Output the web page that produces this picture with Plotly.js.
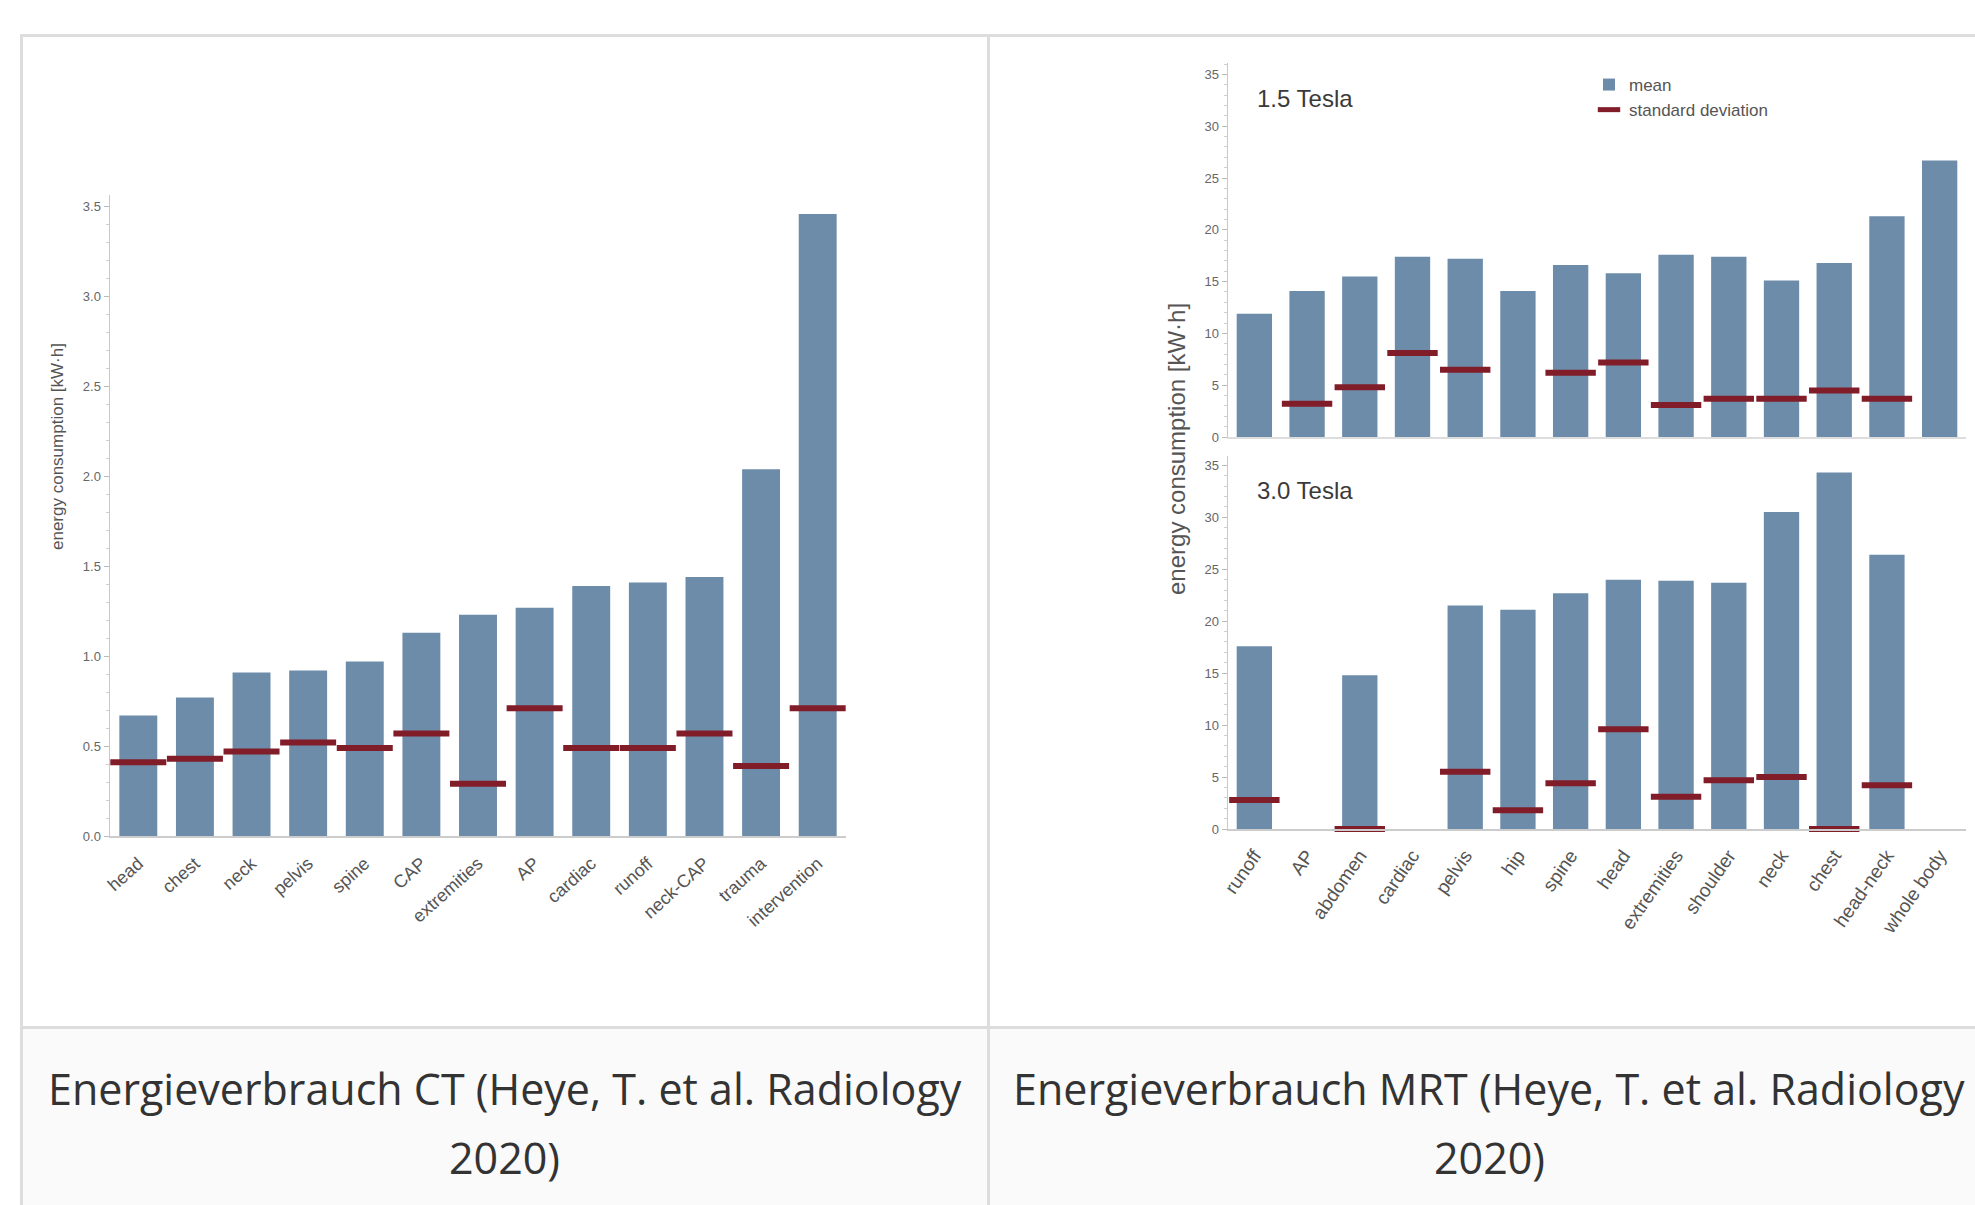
<!DOCTYPE html>
<html>
<head>
<meta charset="utf-8">
<script src="https://cdn.plot.ly/plotly-3.0.1.min.js"></script>
<style>
  html, body { margin: 0; padding: 0; background: #ffffff; }
  #chart { width: 1975px; height: 1205px; }
</style>
</head>
<body>
<div id="chart"></div>
<script>
// ---- Data ----
var ctCategories = ['head','chest','neck','pelvis','spine','CAP','extremities','AP','cardiac','runoff','neck-CAP','trauma','intervention'];
var ctMean = [0.67, 0.77, 0.91, 0.92, 0.97, 1.13, 1.23, 1.27, 1.39, 1.41, 1.44, 2.04, 3.46];
var ctSD   = [0.41, 0.43, 0.47, 0.52, 0.49, 0.57, 0.29, 0.71, 0.49, 0.49, 0.57, 0.39, 0.71];

var mrCategories = ['runoff','AP','abdomen','cardiac','pelvis','hip','spine','head','extremities','shoulder','neck','chest','head-neck','whole body'];
var mr15Mean = [11.9, 14.1, 15.5, 17.4, 17.2, 14.1, 16.6, 15.8, 17.6, 17.4, 15.1, 16.8, 21.3, 26.7];
var mr15SD   = [null, 3.2, 4.8, 8.1, 6.5, null, 6.2, 7.2, 3.1, 3.7, 3.7, 4.5, 3.7, null];
var mr30Mean = [17.6, null, 14.8, null, 21.5, 21.1, 22.7, 24.0, 23.9, 23.7, 30.5, 34.3, 26.4, null];
var mr30SD   = [2.8, null, 0.0, null, 5.5, 1.8, 4.4, 9.6, 3.1, 4.7, 5.0, 0.0, 4.2, null];

var ctCaption1 = 'Energieverbrauch CT (Heye, T. et al. Radiology';
var mrCaption1 = 'Energieverbrauch MRT (Heye, T. et al. Radiology';
var captionLine2 = '2020)';
var yTitle = 'energy consumption [kW·h]';

// ---- Helpers: pixel -> paper fraction ----
var W = 1975, H = 1205;
function fx(p) { return p / W; }
function fy(p) { return 1 - p / H; }

var barColor = '#6d8ca9';
var sdColor = '#801d29';
var chartFont = 'Liberation Sans, Arial, sans-serif';

function barTrace(x, y, xa, ya, name, show) {
  return { type: 'bar', x: x, y: y, xaxis: xa, yaxis: ya, name: name, showlegend: show,
           marker: { color: barColor }, hoverinfo: 'x+y' };
}
function sdTrace(x, y, xa, ya, size, name, show) {
  return { type: 'scatter', mode: 'markers', x: x, y: y, xaxis: xa, yaxis: ya, name: name, showlegend: show,
           cliponaxis: false,
           marker: { symbol: 'line-ew', size: size, color: sdColor, line: { color: sdColor, width: 6 } } };
}

var data = [
  barTrace(ctCategories, ctMean, 'x', 'y', 'mean', false),
  sdTrace(ctCategories, ctSD, 'x', 'y', 40, 'standard deviation', false),
  barTrace(mrCategories, mr15Mean, 'x2', 'y2', 'mean', true),
  sdTrace(mrCategories, mr15SD, 'x2', 'y2', 36, 'standard deviation', true),
  barTrace(mrCategories, mr30Mean, 'x3', 'y3', 'mean', false),
  sdTrace(mrCategories, mr30SD, 'x3', 'y3', 36, 'standard deviation', false)
];

var tickFontY = { family: chartFont, size: 13, color: '#666' };

function yAxisBase(dom, rng, dtick, minorDtick, fmt) {
  return {
    domain: dom, range: rng, dtick: dtick, tick0: 0, tickformat: fmt,
    showgrid: false, zeroline: false, showline: true, linecolor: '#c8c8c8', linewidth: 1.5,
    ticks: 'outside', ticklen: 5, tickcolor: '#bbbbbb', tickwidth: 1,
    tickfont: tickFontY,
    minor: { dtick: minorDtick, ticks: 'outside', ticklen: 3, tickcolor: '#d0d0d0', showgrid: false },
    fixedrange: true
  };
}

var layout = {
  width: W, height: H,
  margin: { l: 0, r: 0, t: 0, b: 0 },
  paper_bgcolor: '#ffffff',
  plot_bgcolor: 'rgba(0,0,0,0)',
  bargap: 0.33,
  font: { family: chartFont, color: '#555' },
  showlegend: true,
  legend: {
    x: fx(1589), y: fy(67), xanchor: 'left', yanchor: 'top',
    bgcolor: 'rgba(0,0,0,0)', font: { family: chartFont, size: 17, color: '#555' },
    tracegroupgap: 0
  },
  xaxis: {
    domain: [fx(110), fx(846)], anchor: 'y', type: 'category', range: [-0.5, 12.5],
    showgrid: false, zeroline: false, showline: true, linecolor: '#cccccc', linewidth: 2,
    ticks: '', tickangle: -42, ticklabelstandoff: 8,
    tickfont: { family: chartFont, size: 18, color: '#555' }, fixedrange: true
  },
  yaxis: Object.assign(yAxisBase([fy(836), fy(195)], [0, 3.565], 0.5, 0.1, '.1f'), { anchor: 'x' }),
  xaxis2: {
    domain: [fx(1228), fx(1966)], anchor: 'y2', type: 'category', range: [-0.5, 13.5],
    showgrid: false, zeroline: false, showline: true, linecolor: '#dddddd', linewidth: 1.5,
    showticklabels: false, ticks: '', fixedrange: true
  },
  yaxis2: Object.assign(yAxisBase([fy(437), fy(63)], [0, 36.1], 5, 1, 'd'), { anchor: 'x2' }),
  xaxis3: {
    domain: [fx(1228), fx(1966)], anchor: 'y3', type: 'category', range: [-0.5, 13.5],
    showgrid: false, zeroline: false, showline: true, linecolor: '#cccccc', linewidth: 2,
    ticks: '', tickangle: -55, ticklabelstandoff: 6,
    tickfont: { family: chartFont, size: 19, color: '#555' }, fixedrange: true
  },
  yaxis3: Object.assign(yAxisBase([fy(829), fy(456)], [0, 35.9], 5, 1, 'd'), { anchor: 'x3' }),
  shapes: [
    // caption row background
    { type: 'rect', xref: 'paper', yref: 'paper', x0: fx(23), x1: fx(1975), y0: fy(1205), y1: fy(1029),
      fillcolor: '#fafafa', line: { width: 0 }, layer: 'below' },
    // table borders
    { type: 'line', xref: 'paper', yref: 'paper', x0: fx(20), x1: fx(1975), y0: fy(35.5), y1: fy(35.5),
      line: { color: '#dddddd', width: 3 } },
    { type: 'line', xref: 'paper', yref: 'paper', x0: fx(21.5), x1: fx(21.5), y0: fy(34), y1: fy(1205),
      line: { color: '#dddddd', width: 3 } },
    { type: 'line', xref: 'paper', yref: 'paper', x0: fx(988.5), x1: fx(988.5), y0: fy(34), y1: fy(1205),
      line: { color: '#dddddd', width: 3 } },
    { type: 'line', xref: 'paper', yref: 'paper', x0: fx(20), x1: fx(1975), y0: fy(1027.5), y1: fy(1027.5),
      line: { color: '#dddddd', width: 3 } }
  ],
  annotations: [
    { xref: 'paper', yref: 'paper', x: fx(1255), y: fy(98), xanchor: 'left', yanchor: 'middle', showarrow: false,
      text: '1.5 Tesla', font: { family: chartFont, size: 24, color: '#3a3a3a' } },
    { xref: 'paper', yref: 'paper', x: fx(1255), y: fy(490), xanchor: 'left', yanchor: 'middle', showarrow: false,
      text: '3.0 Tesla', font: { family: chartFont, size: 24, color: '#3a3a3a' } },
    // y-axis titles
    { xref: 'paper', yref: 'paper', x: fx(57), y: fy(447), xanchor: 'center', yanchor: 'middle', showarrow: false,
      textangle: -90, text: yTitle, font: { family: chartFont, size: 17, color: '#555' } },
    { xref: 'paper', yref: 'paper', x: fx(1176), y: fy(449), xanchor: 'center', yanchor: 'middle', showarrow: false,
      textangle: -90, text: yTitle, font: { family: chartFont, size: 24, color: '#555' } },
    // captions
    { xref: 'paper', yref: 'paper', x: fx(505), y: fy(1088), xanchor: 'center', yanchor: 'middle', showarrow: false,
      text: ctCaption1, font: { family: 'Open Sans, sans-serif', size: 43, color: '#333' } },
    { xref: 'paper', yref: 'paper', x: fx(505), y: fy(1157), xanchor: 'center', yanchor: 'middle', showarrow: false,
      text: captionLine2, font: { family: 'Open Sans, sans-serif', size: 43, color: '#333' } },
    { xref: 'paper', yref: 'paper', x: fx(1489), y: fy(1088), xanchor: 'center', yanchor: 'middle', showarrow: false,
      text: mrCaption1, font: { family: 'Open Sans, sans-serif', size: 43, color: '#333' } },
    { xref: 'paper', yref: 'paper', x: fx(1489), y: fy(1157), xanchor: 'center', yanchor: 'middle', showarrow: false,
      text: captionLine2, font: { family: 'Open Sans, sans-serif', size: 43, color: '#333' } }
  ]
};

Plotly.newPlot('chart', data, layout, { displayModeBar: false, staticPlot: true });
</script>
</body>
</html>
